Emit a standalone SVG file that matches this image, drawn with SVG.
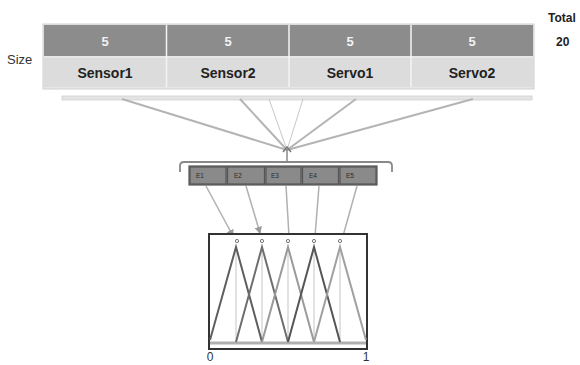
<svg xmlns="http://www.w3.org/2000/svg" width="580" height="365" viewBox="0 0 580 365">
  <defs>
    <style>
      .lbl { font-family: "Liberation Sans", Arial, sans-serif; font-weight: bold; }
      .num { font-size: 13px; fill: #f2f2f2; text-anchor: middle; }
      .name { font-size: 14px; fill: #222; text-anchor: middle; }
      .side { font-family: "Liberation Sans", Arial, sans-serif; font-size: 13px; fill: #333; }
      .hdr { fill: #8c8c8c; }
      .row { fill: #dcdcdc; }
      .sep { stroke: #f4f4f4; stroke-width: 1.5; }
      .fan { stroke: #b4b4b4; stroke-width: 2; fill: none; }
      .fan-thin { stroke: #c8c8c8; stroke-width: 1; fill: none; }
      .ecell { fill: #8a8a8a; stroke: #555; stroke-width: 1.2; }
      .etxt { font-family: "Liberation Sans", Arial, sans-serif; font-size: 6.5px; fill: #2a2a2a; }
      .link { stroke: #b0b0b0; stroke-width: 1.5; fill: none; }
      .mf { fill: none; stroke-width: 2; stroke-linejoin: miter; }
      .guide { stroke: #e2e2e2; stroke-width: 2; }
      .axis { font-family: "Liberation Sans", Arial, sans-serif; font-size: 12px; fill: #333; text-anchor: middle; }
    </style>
    <marker id="tip" viewBox="0 0 6 6" refX="5" refY="3" markerWidth="5" markerHeight="5" orient="auto">
      <path d="M0,0 L6,3 L0,6 z" fill="#9a9a9a"/>
    </marker>
  </defs>
  <rect width="580" height="365" fill="#ffffff"/>

  <!-- message layout table -->
  <g id="table">
    <rect x="43" y="24" width="491" height="65" fill="#e6e6e6" stroke="#d0d0d0" stroke-width="1"/>
    <rect class="hdr" x="44" y="25" width="489" height="31"/>
    <rect class="row" x="44" y="58" width="489" height="29"/>
    <line class="sep" x1="166.5" y1="25" x2="166.5" y2="87"/>
    <line class="sep" x1="289" y1="25" x2="289" y2="87"/>
    <line class="sep" x1="411" y1="25" x2="411" y2="87"/>
    <text class="lbl num" x="105" y="46">5</text>
    <text class="lbl num" x="228" y="46">5</text>
    <text class="lbl num" x="350" y="46">5</text>
    <text class="lbl num" x="472" y="46">5</text>
    <text class="lbl name" x="105" y="78">Sensor1</text>
    <text class="lbl name" x="228" y="78">Sensor2</text>
    <text class="lbl name" x="350" y="78">Servo1</text>
    <text class="lbl name" x="472" y="78">Servo2</text>
  </g>
  <g id="size-label">
    <text class="side" x="7" y="64">Size</text>
  </g>
  <g id="total">
    <text class="lbl" x="548" y="22" font-size="12" fill="#222">Total</text>
    <text class="lbl" x="556" y="46" font-size="12" fill="#222">20</text>
  </g>

  <!-- collector bar under the table -->
  <g id="bar">
    <rect x="62" y="96" width="470" height="4" fill="#e4e4e4" stroke="#cfcfcf" stroke-width="0.8"/>
  </g>

  <!-- connectors -->
  <g id="connectors">
    <line class="fan" x1="122" y1="99" x2="287" y2="150"/>
    <line class="fan" x1="240" y1="99" x2="287" y2="150"/>
    <line class="fan-thin" x1="269" y1="99" x2="287" y2="150"/>
    <line class="fan-thin" x1="303" y1="99" x2="287" y2="150"/>
    <line class="fan" x1="356" y1="99" x2="287" y2="150"/>
    <line class="fan" x1="473" y1="99" x2="287" y2="150"/>
    <path d="M283,152 L287,147 L291,152" fill="none" stroke="#777" stroke-width="1.5"/>
    <line x1="287" y1="148" x2="287" y2="162" stroke="#888" stroke-width="1.5"/>

    <line class="link" x1="206" y1="186" x2="233" y2="236" marker-end="url(#tip)"/>
    <line class="link" x1="246" y1="186" x2="260" y2="233" marker-end="url(#tip)"/>
    <line class="link" x1="286" y1="186" x2="289" y2="236"/>
    <line class="link" x1="319" y1="186" x2="315" y2="236"/>
    <line class="link" x1="357" y1="186" x2="343" y2="236"/>
  </g>

  <!-- encoder bracket and cells -->
  <g id="encoder">
    <path d="M180,172 L180,166 Q180,162 184,162 L388,162 Q392,162 392,166 L392,172" fill="none" stroke="#888" stroke-width="1.8"/>
    <rect class="ecell" x="189" y="166" width="188" height="19"/>
    <rect class="ecell" x="190" y="167" width="36" height="17"/>
    <rect class="ecell" x="227.5" y="167" width="37" height="17"/>
    <rect class="ecell" x="266" y="167" width="35" height="17"/>
    <rect class="ecell" x="302.5" y="167" width="36" height="17"/>
    <rect class="ecell" x="340" y="167" width="36" height="17"/>
    <text class="etxt" x="196" y="178">E1</text>
    <text class="etxt" x="234" y="178">E2</text>
    <text class="etxt" x="271" y="178">E3</text>
    <text class="etxt" x="309" y="178">E4</text>
    <text class="etxt" x="346" y="178">E5</text>
  </g>

  <!-- membership function plot -->
  <g id="membership">
    <rect x="209" y="234" width="158" height="115" fill="#ffffff" stroke="#333" stroke-width="2"/>
    <line class="guide" x1="236" y1="247" x2="236" y2="342"/>
    <line class="guide" x1="262" y1="247" x2="262" y2="342"/>
    <line class="guide" x1="288" y1="247" x2="288" y2="342"/>
    <line class="guide" x1="314" y1="247" x2="314" y2="342"/>
    <line class="guide" x1="340" y1="247" x2="340" y2="342"/>
    <rect x="210" y="341.5" width="156" height="3" fill="#b0b0b0"/>
    <polyline class="mf" points="210,340 236,247 262,342" stroke="#5e5e5e"/>
    <polyline class="mf" points="236,342 262,247 288,342" stroke="#6e6e6e"/>
    <polyline class="mf" points="262,342 288,247 314,342" stroke="#9a9a9a"/>
    <polyline class="mf" points="288,342 314,247 340,342" stroke="#555555"/>
    <polyline class="mf" points="314,342 340,247 366,340" stroke="#a0a0a0"/>
    <circle cx="237" cy="241" r="1.6" fill="none" stroke="#777" stroke-width="1"/>
    <circle cx="262" cy="241" r="1.6" fill="none" stroke="#777" stroke-width="1"/>
    <circle cx="288" cy="241" r="1.6" fill="none" stroke="#777" stroke-width="1"/>
    <circle cx="314" cy="241" r="1.6" fill="none" stroke="#777" stroke-width="1"/>
    <circle cx="340" cy="241" r="1.6" fill="none" stroke="#777" stroke-width="1"/>
    <text class="axis" x="210" y="361">0</text>
    <text class="axis" x="366" y="361">1</text>
  </g>
</svg>
